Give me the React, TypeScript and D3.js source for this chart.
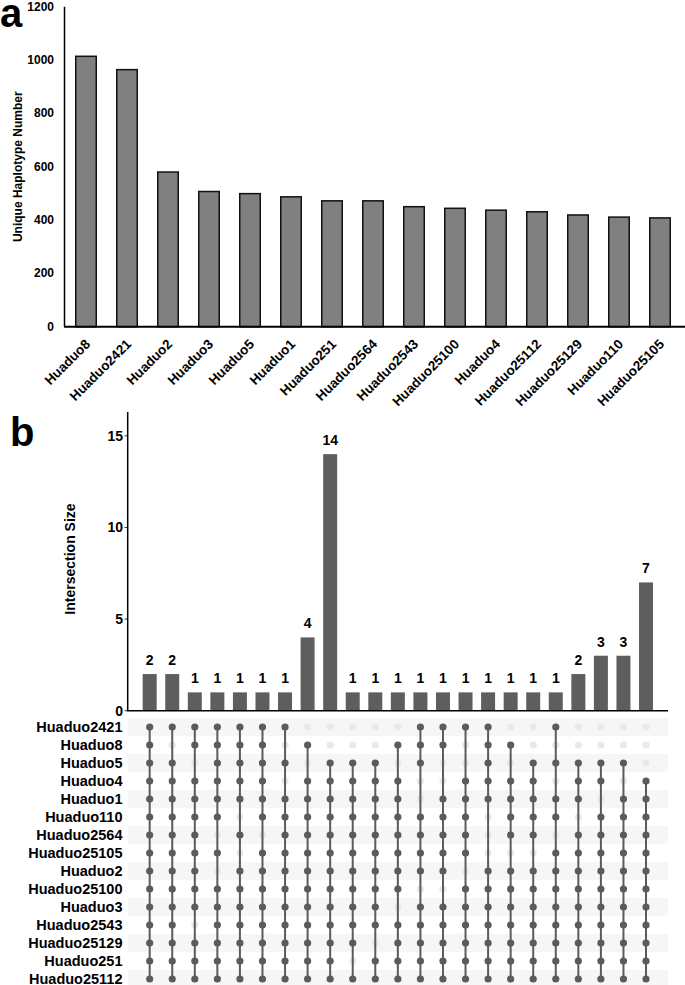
import React, { useEffect } from "react";
import * as d3 from "d3";

// ---------- Panel a data ----------
const cultivarsA = [
  "Huaduo8", "Huaduo2421", "Huaduo2", "Huaduo3", "Huaduo5", "Huaduo1", "Huaduo251",
  "Huaduo2564", "Huaduo2543", "Huaduo25100", "Huaduo4", "Huaduo25112", "Huaduo25129",
  "Huaduo110", "Huaduo25105",
];
const haplotypeCounts = [1014, 964, 580, 507, 499, 487, 472, 472, 450, 444, 437, 431, 419, 411, 408];
const ticksA = [0, 200, 400, 600, 800, 1000, 1200];

// ---------- Panel b data ----------
const setNames = [
  "Huaduo2421", "Huaduo8", "Huaduo5", "Huaduo4", "Huaduo1", "Huaduo110", "Huaduo2564",
  "Huaduo25105", "Huaduo2", "Huaduo25100", "Huaduo3", "Huaduo2543", "Huaduo25129",
  "Huaduo251", "Huaduo25112",
];
const intersectionSizes = [2, 2, 1, 1, 1, 1, 1, 4, 14, 1, 1, 1, 1, 1, 1, 1, 1, 1, 1, 2, 3, 3, 7];
// membership per intersection column, one char per set (in setNames order)
const memberships = [
  "111111111111111", "101111111111111", "110111111110111", "111111010111111",
  "111110101111111", "111111011111111", "101011111111111", "010111111111111",
  "001111111111111", "001111111111101", "001111111111011", "010111111101111",
  "111001111011111", "110011111011111", "100111110111111", "111110001111111",
  "010111101111111", "001111101111111", "101011011111111", "001110111111111",
  "001101111111111", "001011111111111", "000111111111111",
];
const ticksB = [0, 5, 10, 15];

const FONT = "'Liberation Sans', Arial, Helvetica, sans-serif";
const DARK = "#5b5b5b";

export default function App() {
  useEffect(() => {
    document.body.style.margin = "0";
  }, []);

  // Panel a scales
  const xA = d3.scaleBand<string>().domain(cultivarsA).range([65.5, 680.5]).paddingInner(0.5).paddingOuter(0.25);
  const yA = d3.scaleLinear().domain([0, 1200]).range([326.7, 6.7]);

  // Panel b scales
  const cols = intersectionSizes.map((_, i) => i);
  const xB = d3.scaleBand<number>().domain(cols).range([138.4, 657.3]).paddingInner(0.38).paddingOuter(0.19);
  const yB = d3.scaleLinear().domain([0, 16.3]).range([710.7, 412]);
  const yRow = d3.scaleBand<string>().domain(setNames).range([718, 988]);

  const cx = (i: number) => (xB(i) as number) + xB.bandwidth() / 2;
  const rowY = (s: string) => (yRow(s) as number) + yRow.bandwidth() / 2;

  return (
    <svg width={685} height={985} style={{ position: "absolute", left: 0, top: 0, background: "#fff" }} fontFamily={FONT}>
      {/* ---------------- Panel a ---------------- */}
      <text x={0} y={27} fontSize={40} fontWeight="bold">a</text>
      <text
        transform={`translate(18,${(yA(0) + yA(1200)) / 2}) rotate(-90)`}
        textAnchor="middle"
        dominantBaseline="central"
        fontSize={12}
        fontWeight="bold"
      >
        Unique Haplotype Number
      </text>
      {ticksA.map((t) => (
        <text key={t} x={54} y={yA(t)} textAnchor="end" dominantBaseline="central" fontSize={12} fontWeight="bold">
          {t}
        </text>
      ))}
      {cultivarsA.map((c, i) => (
        <rect
          key={c}
          x={xA(c)}
          y={yA(haplotypeCounts[i])}
          width={xA.bandwidth()}
          height={yA(0) - yA(haplotypeCounts[i])}
          fill="#808080"
          stroke="#111"
          strokeWidth={1.5}
        />
      ))}
      <line x1={64.5} x2={64.5} y1={yA(1200)} y2={yA(0)} stroke="#000" strokeWidth={1.5} />
      <line x1={64} x2={685} y1={yA(0)} y2={yA(0)} stroke="#000" strokeWidth={2} />
      {cultivarsA.map((c) => {
        const px = (xA(c) as number) + xA.bandwidth() / 2 + 5;
        return (
          <text
            key={c}
            transform={`translate(${px},345) rotate(-45)`}
            textAnchor="end"
            fontSize={13.5}
            fontWeight="bold"
          >
            {c}
          </text>
        );
      })}

      {/* ---------------- Panel b ---------------- */}
      <text x={10} y={446} fontSize={40} fontWeight="bold">b</text>
      <text
        transform={`translate(70,559) rotate(-90)`}
        textAnchor="middle"
        dominantBaseline="central"
        fontSize={14}
        fontWeight="bold"
      >
        Intersection Size
      </text>
      {ticksB.map((t) => (
        <g key={t}>
          <line x1={124.5} x2={127.7} y1={yB(t)} y2={yB(t)} stroke="#333" strokeWidth={1} />
          <text x={123} y={yB(t)} textAnchor="end" dominantBaseline="central" fontSize={14} fontWeight="bold">
            {t}
          </text>
        </g>
      ))}
      {cols.map((i) => (
        <g key={i}>
          <rect
            x={xB(i)}
            y={yB(intersectionSizes[i])}
            width={xB.bandwidth()}
            height={yB(0) - yB(intersectionSizes[i])}
            fill="#5e5e5e"
          />
          <text x={cx(i)} y={yB(intersectionSizes[i]) - 9} textAnchor="middle" fontSize={14} fontWeight="bold">
            {intersectionSizes[i]}
          </text>
        </g>
      ))}
      <line x1={127.7} x2={127.7} y1={412} y2={yB(0)} stroke="#000" strokeWidth={1.5} />
      <line x1={127} x2={668} y1={yB(0)} y2={yB(0)} stroke="#000" strokeWidth={1.5} />

      {/* matrix stripes */}
      {setNames.map((s, r) =>
        r % 2 === 0 ? (
          <rect key={s} x={128} y={yRow(s)} width={540} height={yRow.bandwidth()} fill="#f6f6f6" />
        ) : null
      )}
      {/* row labels */}
      {setNames.map((s) => (
        <text key={s} x={122.5} y={rowY(s)} textAnchor="end" dominantBaseline="central" fontSize={14.5} fontWeight="bold">
          {s}
        </text>
      ))}
      {/* empty dots */}
      {cols.map((i) =>
        setNames.map((s, r) =>
          memberships[i][r] === "0" ? (
            <circle key={`e${i}-${r}`} cx={cx(i)} cy={rowY(s)} r={3.6} fill="#e9e9e9" />
          ) : null
        )
      )}
      {/* connecting lines */}
      {cols.map((i) => {
        const idx = setNames.map((_, r) => r).filter((r) => memberships[i][r] === "1");
        const first = idx[0];
        const last = idx[idx.length - 1];
        return (
          <line
            key={`l${i}`}
            x1={cx(i)}
            x2={cx(i)}
            y1={rowY(setNames[first])}
            y2={rowY(setNames[last])}
            stroke={DARK}
            strokeWidth={2}
          />
        );
      })}
      {/* filled dots */}
      {cols.map((i) =>
        setNames.map((s, r) =>
          memberships[i][r] === "1" ? (
            <circle key={`f${i}-${r}`} cx={cx(i)} cy={rowY(s)} r={3.6} fill={DARK} />
          ) : null
        )
      )}
    </svg>
  );
}
